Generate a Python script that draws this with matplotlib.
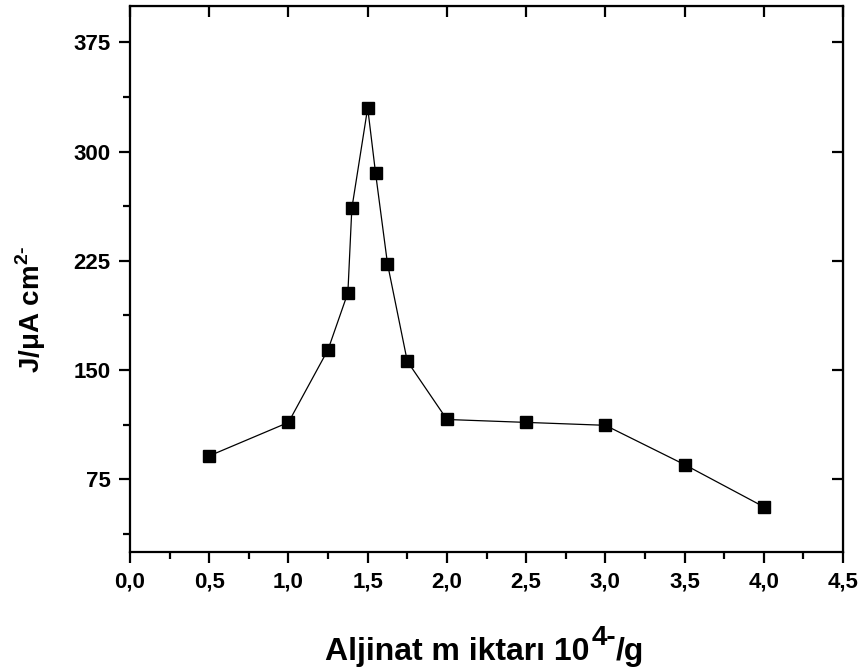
import numpy as np
import matplotlib
matplotlib.use('Agg')
import matplotlib.pyplot as plt
from matplotlib.ticker import MultipleLocator, FormatStrFormatter, FuncFormatter

plt.rcParams['font.family'] = ['Liberation Sans', 'DejaVu Sans']
plt.rcParams['font.weight'] = 'bold'
plt.rcParams['mathtext.fontset'] = 'custom'
plt.rcParams['mathtext.bf'] = 'Liberation Sans:bold'
plt.rcParams['mathtext.rm'] = 'Liberation Sans:bold'

# alginate amount vs current density
aljinat = [0.5, 1.0, 1.25, 1.375, 1.4, 1.5, 1.55, 1.625, 1.75, 2.0, 2.5, 3.0, 3.5, 4.0]
akim = [91, 114, 164, 203, 261, 330, 285, 223, 156, 116, 114, 112, 85, 56]

fig = plt.figure(figsize=(8.65, 6.72), dpi=100)
ax = fig.add_axes([0.1503, 0.1786, 0.8243, 0.8125])

ax.plot(aljinat, akim, 'k-', lw=0.9, marker='s', ms=8, mfc='black', mec='black')

ax.set_xlim(0, 4.5)
ax.set_ylim(25, 400)
ax.xaxis.set_major_locator(MultipleLocator(0.5))
ax.xaxis.set_minor_locator(MultipleLocator(0.25))
ax.yaxis.set_major_locator(MultipleLocator(75))
ax.yaxis.set_minor_locator(MultipleLocator(37.5))
ax.xaxis.set_major_formatter(FuncFormatter(lambda v, p: f"{v:.1f}".replace('.', ',')))
ax.yaxis.set_major_formatter(FormatStrFormatter('%d'))

for s in ax.spines.values():
    s.set_linewidth(1.6)

ax.tick_params(which='major', direction='out', length=8, width=1.6, labelsize=16, pad=6)
ax.tick_params(which='minor', direction='out', length=5, width=1.6)
# inward major ticks on top and right, no labels
ax2 = ax.secondary_xaxis('top')
ax2.xaxis.set_major_locator(MultipleLocator(0.5))
ax2.tick_params(direction='in', length=8, width=1.6, labeltop=False)
ax3 = ax.secondary_yaxis('right')
ax3.yaxis.set_major_locator(MultipleLocator(75))
ax3.tick_params(direction='in', length=8, width=1.6, labelright=False)

for lab in ax.get_xticklabels() + ax.get_yticklabels():
    lab.set_fontweight('bold')

# y label
fig.text(0.036, 0.54, r"J/μA cm$^{\mathbf{2}\text{-}}$", rotation=90, fontsize=20,
         fontweight='bold', ha='center', va='center')

# x label built from pieces so the superscript stays large
t1 = fig.text(0.376, 0.0179, "Aljinat m iktarı 10", fontsize=23,
              fontweight='bold', ha='left', va='baseline')
t2 = ax.annotate("4-", xy=(1, 0), xycoords=t1, xytext=(1, 16),
                 textcoords='offset points', fontsize=20, fontweight='bold',
                 ha='left', va='baseline', annotation_clip=False)
t3 = ax.annotate("/g", xy=(1, 0), xycoords=(t2, t1), xytext=(0, 0),
                 textcoords='offset points', fontsize=23, fontweight='bold',
                 ha='left', va='bottom', annotation_clip=False)

fig.savefig('out.png', dpi=100)
